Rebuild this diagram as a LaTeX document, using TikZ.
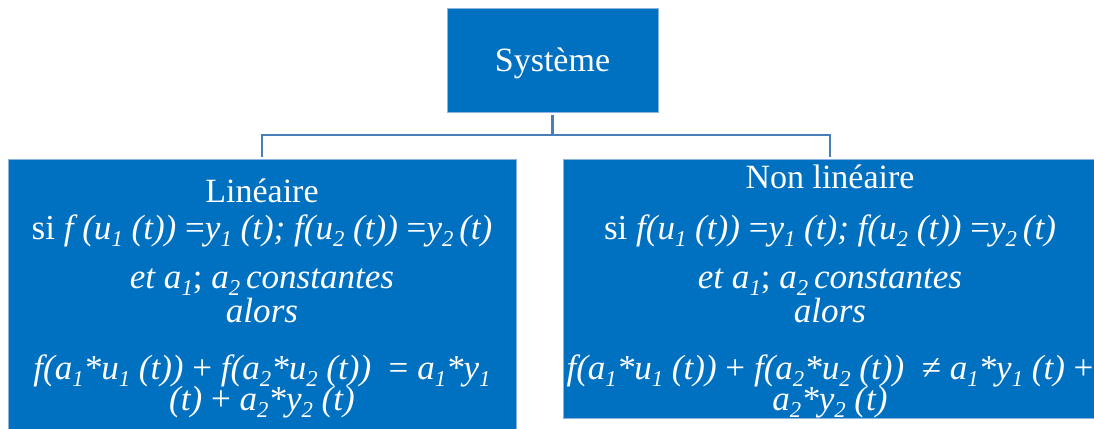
\documentclass[tikz,border=0pt]{standalone}
\usepackage{fontspec}
\setmainfont{Liberation Serif}
\usetikzlibrary{fit}
\definecolor{boxblue}{RGB}{0,112,192}
\definecolor{edgeblue}{RGB}{140,180,225}
\definecolor{connblue}{RGB}{74,126,182}
\newcommand\sbs[1]{\raisebox{-0.45ex}{\fontsize{17}{17}\selectfont\itshape #1}}
\tikzset{
  box/.style={fill=boxblue, draw=edgeblue, line width=0.5pt, inner sep=0pt},
  txt/.style={text=white, inner sep=0pt, font=\fontsize{25.5}{30}\selectfont},
  ftxt/.style={text=white, inner sep=0pt, font=\fontsize{26.3}{30}\selectfont},
  conn/.style={draw=connblue, line width=1.6pt}
}
\begin{document}
\begin{tikzpicture}[x=0.75pt, y=-0.75pt]
\useasboundingbox (0,0) rectangle (1094,428);
\clip (0,0) rectangle (1094,428);
% boxes
\node[box, fit={(447,8) (658,112)}] (sys) {};
\node[box, fit={(8,159) (516,440)}] (lin) {};
\node[box, fit={(563,159) (1097,418)}] (nlin) {};
% connectors
\coordinate (j) at (552.5,135);
\draw[conn, shorten <=2.2pt] (sys.south) -- (j);
\draw[conn, shorten >=1.5pt] (j) -| (lin.north);
\draw[conn, shorten >=1.5pt] (j) -| (nlin.north);
% texts
\node[txt, anchor=base] (t0) at (552.5,71) {Système};
% left
\node[txt, anchor=base] (l1) at (262,202) {Linéaire};
\node[ftxt, anchor=base] (l2) at (262,239) {si \textit{f (u\sbs{1} (t))} =\textit{y\sbs{1} (t); f(u\sbs{2} (t))} =\textit{y\sbs{2}\,(t)}};
\node[ftxt, anchor=base] (l3) at (262,288) {\textit{et a\sbs{1}}; \textit{a\sbs{2}\,constantes}};
\node[ftxt, anchor=base] (l4) at (262,322) {\textit{alors}};
\node[ftxt, anchor=base] (l5) at (262,379) {\textit{f(a\sbs{1}*u\sbs{1} (t))} + \textit{f(a\sbs{2}*u\sbs{2} (t))}\ \ = \textit{a\sbs{1}*y\sbs{1}}};
\node[ftxt, anchor=base] (l6) at (262,410) {\textit{(t)} + \textit{a\sbs{2}*y\sbs{2} (t)}};
% right
\node[txt, anchor=base] (r1) at (830,188) {Non linéaire};
\node[ftxt, anchor=base] (r2) at (830,239) {si \textit{f(u\sbs{1} (t))} =\textit{y\sbs{1} (t); f(u\sbs{2} (t))} =\textit{y\sbs{2}\,(t)}};
\node[ftxt, anchor=base] (r3) at (830,288) {\textit{et a\sbs{1}}; \textit{a\sbs{2}\,constantes}};
\node[ftxt, anchor=base] (r4) at (830,322) {\textit{alors}};
\node[ftxt, anchor=base] (r5) at (830,379) {\textit{f(a\sbs{1}*u\sbs{1} (t))} + \textit{f(a\sbs{2}*u\sbs{2} (t))}\ \ ≠ \textit{a\sbs{1}*y\sbs{1} (t)} +};
\node[ftxt, anchor=base] (r6) at (830,410) {\textit{a\sbs{2}*y\sbs{2} (t)}};
\end{tikzpicture}
\end{document}
